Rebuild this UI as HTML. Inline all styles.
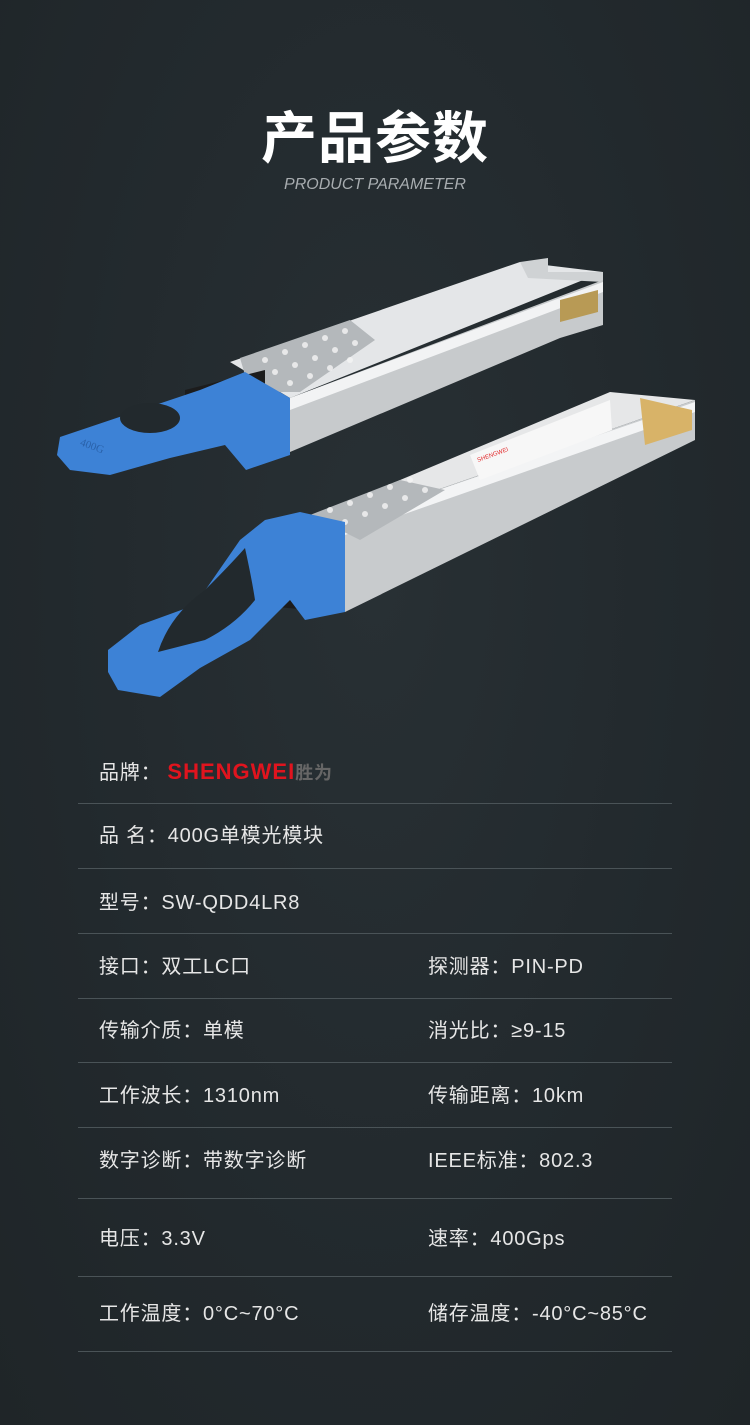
<!DOCTYPE html>
<html><head><meta charset="utf-8"><style>
html,body{margin:0;padding:0}
body{width:750px;height:1425px;background:radial-gradient(ellipse at 50% 40%,#283034 0%,#22292d 60%,#1f2528 100%);position:relative;overflow:hidden;font-family:"Liberation Sans","Noto Sans CJK SC",sans-serif;color:#e8e8e8}
.t{position:absolute;left:0;width:750px;text-align:center}
.row{position:absolute;font-size:20px;line-height:24px;color:#e6e6e6;white-space:nowrap;letter-spacing:0.8px}
.ln{position:absolute;left:78px;width:594px;height:1px;background:#4a5357}
</style></head><body>
<div class="t" style="top:94px;font-size:56px;font-weight:bold;color:#fff;letter-spacing:1px;font-family:'Noto Sans CJK SC',sans-serif">产品参数</div>
<div class="t" style="top:176px;font-size:16px;font-style:italic;color:#a8adb0">PRODUCT PARAMETER</div>
<svg style="position:absolute;left:0;top:0" width="750" height="720">
<polygon points="230,362 520,262 603,272 290,398" fill="#e4e6e8"/>
<polygon points="520,262 548,258 548,272 603,272 603,282 528,278" fill="#cfd2d4"/>
<polygon points="290,398 603,280 603,325 560,338 290,452" fill="#c7cacc"/>
<polygon points="290,398 603,282 603,292 290,410" fill="#f2f3f4"/>
<polygon points="560,300 598,290 598,312 560,322" fill="#b89a55"/>
<polygon points="240,358 350,320 375,340 300,392 250,392" fill="#b4b8bb"/>
<g fill="#f5f5f5" opacity=".8">
<circle cx="265" cy="360" r="3"/><circle cx="285" cy="352" r="3"/><circle cx="305" cy="345" r="3"/><circle cx="325" cy="338" r="3"/><circle cx="345" cy="331" r="3"/>
<circle cx="275" cy="372" r="3"/><circle cx="295" cy="365" r="3"/><circle cx="315" cy="358" r="3"/><circle cx="335" cy="350" r="3"/><circle cx="355" cy="343" r="3"/>
<circle cx="290" cy="383" r="3"/><circle cx="310" cy="376" r="3"/><circle cx="330" cy="368" r="3"/><circle cx="350" cy="360" r="3"/></g>
<polygon points="185,390 265,370 265,410 185,425" fill="#1c1c1c"/>
<polygon points="60,437 200,390 245,372 290,398 290,455 246,470 225,445 170,458 110,475 70,470 57,455" fill="#3d82d6"/>
<ellipse cx="150" cy="418" rx="30" ry="15" fill="#22292d"/>
<text x="80" y="448" font-size="11" fill="#2a62aa" transform="rotate(20 88 445)" font-family="Liberation Serif">400G</text>
<polygon points="300,522 610,392 695,400 345,522" fill="#e6e7e8"/>
<polygon points="345,522 695,400 695,440 345,612" fill="#c8cbcd"/>
<polygon points="345,522 695,402 695,412 345,535" fill="#f3f4f5"/>
<polygon points="470,455 610,400 612,430 480,480" fill="#f7f7f7"/>
<text x="478" y="462" font-size="6" fill="#e2292b" transform="rotate(-20 478 462)">SHENGWEI</text>
<polygon points="640,398 692,410 692,430 645,445" fill="#d8b368"/>
<polygon points="310,515 400,480 445,490 360,540" fill="#b4b8bb"/>
<g fill="#f5f5f5" opacity=".8">
<circle cx="330" cy="510" r="3"/><circle cx="350" cy="503" r="3"/><circle cx="370" cy="495" r="3"/><circle cx="390" cy="487" r="3"/><circle cx="410" cy="480" r="3"/>
<circle cx="345" cy="522" r="3"/><circle cx="365" cy="514" r="3"/><circle cx="385" cy="506" r="3"/><circle cx="405" cy="498" r="3"/><circle cx="425" cy="490" r="3"/></g>
<polygon points="260,530 310,520 310,610 255,605" fill="#1c1c1c"/>
<polygon points="108,650 140,625 195,605 240,540 265,520 300,512 345,522 345,612 305,620 290,600 250,640 200,668 160,697 118,690 108,672" fill="#3d82d6"/>
<path d="M158,652 Q170,615 205,590 Q230,565 245,548 Q252,580 255,600 Q235,625 205,640 Z" fill="#22292d"/>
</svg>
<div class="row" style="left:99px;top:760px">品牌：<span style="color:#e0141e;font-weight:bold;font-size:22px;letter-spacing:1px;margin-left:6px">SHENGWEI</span><span style="color:#666;font-weight:bold;font-size:18px">胜为</span></div>
<div class="ln" style="top:803px"></div>
<div class="row" style="left:99px;top:824px">品 名：400G单模光模块</div>
<div class="ln" style="top:868px"></div>
<div class="row" style="left:99px;top:891px">型号：SW-QDD4LR8</div>
<div class="ln" style="top:933px"></div>
<div class="row" style="left:99px;top:955px">接口：双工LC口</div>
<div class="row" style="left:428px;top:955px">探测器：PIN-PD</div>
<div class="ln" style="top:998px"></div>
<div class="row" style="left:99px;top:1019px">传输介质：单模</div>
<div class="row" style="left:428px;top:1019px">消光比：≥9-15</div>
<div class="ln" style="top:1062px"></div>
<div class="row" style="left:99px;top:1084px">工作波长：1310nm</div>
<div class="row" style="left:428px;top:1084px">传输距离：10km</div>
<div class="ln" style="top:1127px"></div>
<div class="row" style="left:99px;top:1149px">数字诊断：带数字诊断</div>
<div class="row" style="left:428px;top:1149px">IEEE标准：802.3</div>
<div class="ln" style="top:1198px"></div>
<div class="row" style="left:99px;top:1227px">电压：3.3V</div>
<div class="row" style="left:428px;top:1227px">速率：400Gps</div>
<div class="ln" style="top:1276px"></div>
<div class="row" style="left:99px;top:1302px">工作温度：0°C~70°C</div>
<div class="row" style="left:428px;top:1302px">储存温度：-40°C~85°C</div>
<div class="ln" style="top:1351px"></div>
</body></html>
